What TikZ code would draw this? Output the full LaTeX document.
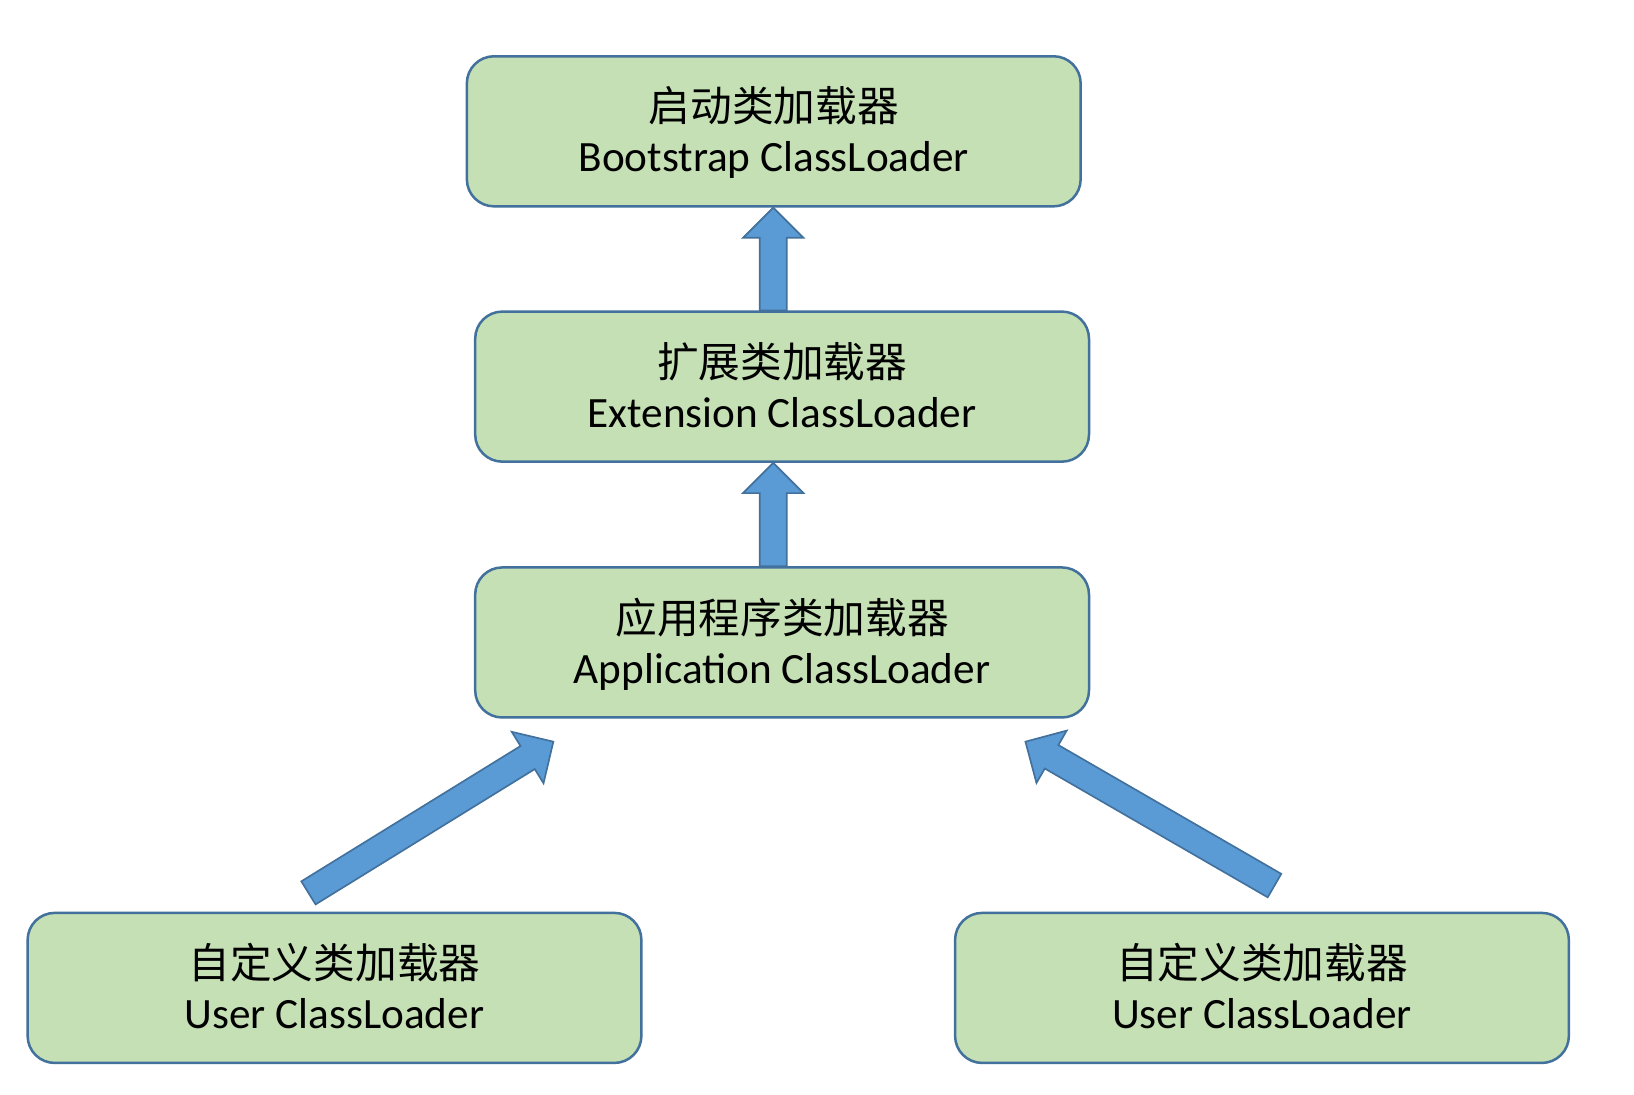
\documentclass[tikz,border=0pt]{standalone}
\usepackage{fontspec}
\setmainfont{Carlito}
\newfontfamily\cjk{Noto Sans CJK SC}
\usetikzlibrary{calc}
\definecolor{boxfill}{HTML}{C5E0B4}
\definecolor{boxline}{HTML}{41719C}
\definecolor{arrfill}{HTML}{5B9BD5}
\definecolor{arrline}{HTML}{41719C}
\tikzset{
  loaderbox/.style={draw=boxline, fill=boxfill, line width=2.4pt, rounded corners=26pt,
    minimum width=589pt, minimum height=144pt, inner sep=0pt},
  zhtext/.style={anchor=base, font=\cjk\fontsize{40}{48}\selectfont, inner sep=0pt},
  entext/.style={anchor=base, font=\fontsize{41.5}{48}\selectfont, inner sep=0pt},
  blockarrow/.style={draw=arrline, fill=arrfill, line width=1.6pt, line join=miter}
}
\newcommand{\blkarrow}[2]{%
  \coordinate (hb) at ($(#2)!29pt!(#1)$);
  \path[blockarrow] ($(#1)!13pt!90:(#2)$) -- ($(hb)!13pt!90:(#2)$) -- ($(hb)!29pt!90:(#2)$)
    -- (#2) -- ($(hb)!29pt!-90:(#2)$) -- ($(hb)!13pt!-90:(#2)$) -- ($(#1)!13pt!-90:(#2)$) -- cycle;}
\begin{document}
\begin{tikzpicture}[x=1pt,y=-1pt]
\useasboundingbox[fill=white] (0,0) rectangle (1568,1050);

\node[loaderbox] (b1) at (742.5,126) {};
\node[zhtext] (b1zh) at ($(b1.center)+(0,-9)$) {启动类加载器};
\node[entext] (b1en) at ($(b1.center)+(0,39)$) {Bootstrap ClassLoader};

\node[loaderbox] (b2) at (750.5,371) {};
\node[zhtext] (b2zh) at ($(b2.center)+(0,-9)$) {扩展类加载器};
\node[entext] (b2en) at ($(b2.center)+(0,39)$) {Extension ClassLoader};

\node[loaderbox] (b3) at (750.5,616.5) {};
\node[zhtext] (b3zh) at ($(b3.center)+(0,-9)$) {应用程序类加载器};
\node[entext] (b3en) at ($(b3.center)+(0,39)$) {Application ClassLoader};

\node[loaderbox] (b4) at (321,948) {};
\node[zhtext] (b4zh) at ($(b4.center)+(0,-9)$) {自定义类加载器};
\node[entext] (b4en) at ($(b4.center)+(0,39)$) {User ClassLoader};

\node[loaderbox] (b5) at (1211,948) {};
\node[zhtext] (b5zh) at ($(b5.center)+(0,-9)$) {自定义类加载器};
\node[entext] (b5en) at ($(b5.center)+(0,39)$) {User ClassLoader};

\coordinate (a1t) at ($(b2.north)+(-8.5,0)$);
\coordinate (a1h) at ($(b1.south)+(-0.5,0)$);
\coordinate (a2t) at ($(b3.north)+(-8.5,0)$);
\coordinate (a2h) at ($(b2.south)+(-8.5,0)$);
\coordinate (a3t) at ($(b4.north)+(-25,-18)$);
\coordinate (a3h) at ($(b3.south)+(-219.5,22)$);
\coordinate (a4t) at ($(b5.north)+(12,-25)$);
\coordinate (a4h) at ($(b3.south)+(233.5,22)$);

\blkarrow{a1t}{a1h}
\blkarrow{a2t}{a2h}
\blkarrow{a3t}{a3h}
\blkarrow{a4t}{a4h}
\end{tikzpicture}
\end{document}
